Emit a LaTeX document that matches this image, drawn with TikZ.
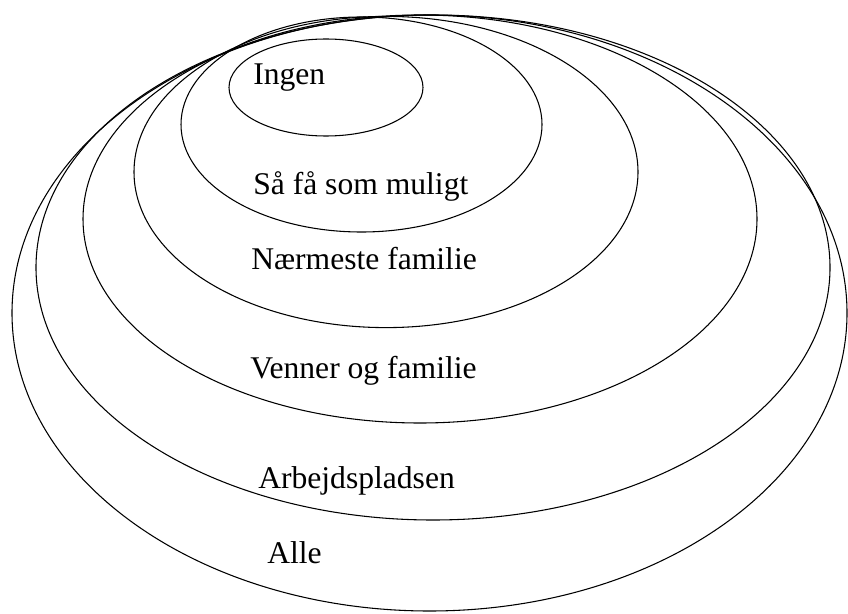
\documentclass[tikz,border=0pt]{standalone}
\usepackage{fontspec}
\setmainfont{Liberation Serif}
\begin{document}
\begin{tikzpicture}[x=0.75pt,y=-0.75pt,
  ring/.style={draw=black,line width=0.8pt},
  lbl/.style={anchor=base west,inner sep=0pt,font=\fontsize{23.7}{28}\selectfont}]
\useasboundingbox (0,0) rectangle (848,613);
\fill[white] (0,0) rectangle (848,613);
\draw[ring] (429.5,313) ellipse [x radius=417.5, y radius=298];
\draw[ring] (433,267.5) ellipse [x radius=397, y radius=252.5];
\draw[ring] (420,219) ellipse [x radius=337, y radius=204];
\draw[ring] (386,172) ellipse [x radius=252, y radius=155.6];
\draw[ring] (361.5,124.5) ellipse [x radius=180.5, y radius=107.5];
\draw[ring] (326,87.5) ellipse [x radius=97, y radius=48.5];
\node[lbl] (ingen) at (253,85) {Ingen};
\node[lbl] (saafaa) at (253,194) {Så få som muligt};
\node[lbl] (naermeste) at (251,269) {Nærmeste familie};
\node[lbl] (venner) at (250,378) {Venner og familie};
\node[lbl] (arbejde) at (258,488) {Arbejdspladsen};
\node[lbl] (alle) at (267,563) {Alle};
\end{tikzpicture}
\end{document}
